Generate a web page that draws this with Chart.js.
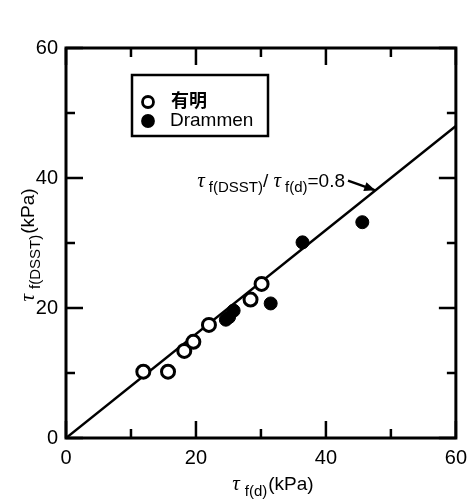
<!DOCTYPE html>
<html>
<head>
<meta charset="utf-8">
<script src="https://cdn.jsdelivr.net/npm/chart.js@4.4.1/dist/chart.umd.min.js"></script>
<style>
  html, body { margin: 0; padding: 0; background: #fff; }
  #wrap { width: 475px; height: 500px; position: relative; }
</style>
</head>
<body>
<div id="wrap"><canvas id="chart"></canvas></div>
<script>
// 有明 (open circles) and Drammen (filled circles)
var ariakeX = [11.9, 15.7, 18.2, 19.6, 22.0, 28.4, 30.1];
var ariakeY = [10.2, 10.2, 13.4, 14.8, 17.4, 21.3, 23.7];
var drammenX = [24.6, 25.1, 25.8, 31.5, 36.4, 45.6];
var drammenY = [18.2, 18.6, 19.6, 20.7, 30.1, 33.2];
var seriesNames = ["有明", "Drammen"];
var ratio = 0.8;
var lineX = [0, 60];
var majorTicks = [0, 20, 40, 60];
var minorTicks = [10, 30, 50];

var SANS = "'Liberation Sans', Arial, sans-serif";
var SERIF = "'Liberation Serif', 'Times New Roman', serif";

function pts(xs, ys) {
    return xs.map(function (x, i) { return { x: x, y: ys[i] }; });
}

// draw a run of text pieces (for subscripts)
function richWidth(ctx, parts) {
    var w = 0;
    parts.forEach(function (p) { ctx.font = p.font; w += ctx.measureText(p.t).width + (p.gap || 0); });
    return w;
}
function drawRich(ctx, parts, x, y) {
    ctx.textBaseline = "alphabetic";
    ctx.textAlign = "left";
    parts.forEach(function (p) {
        ctx.font = p.font;
        ctx.fillText(p.t, x, y + (p.dy || 0));
        x += ctx.measureText(p.t).width + (p.gap || 0);
    });
}

var frame = {
    id: "frame",
    afterDraw: function (chart) {
        var ctx = chart.ctx;
        var a = chart.chartArea;
        var xs = chart.scales.x, ys = chart.scales.y;
        ctx.save();
        ctx.strokeStyle = "#000";
        ctx.fillStyle = "#000";

        // inward ticks on four sides
        ctx.lineWidth = 2.5;
        function tick(v, len) {
            var px = xs.getPixelForValue(v), py = ys.getPixelForValue(v);
            ctx.beginPath();
            ctx.moveTo(px, a.bottom); ctx.lineTo(px, a.bottom - len);
            ctx.moveTo(px, a.top); ctx.lineTo(px, a.top + len);
            ctx.moveTo(a.left, py); ctx.lineTo(a.left + len, py);
            ctx.moveTo(a.right, py); ctx.lineTo(a.right - len, py);
            ctx.stroke();
        }
        majorTicks.forEach(function (v) { tick(v, 17); });
        minorTicks.forEach(function (v) { tick(v, 9); });

        // box
        ctx.lineWidth = 3;
        ctx.strokeRect(a.left, a.top, a.right - a.left, a.bottom - a.top);

        // legend
        var lx = 132, ly = 75;
        ctx.lineWidth = 2.5;
        ctx.strokeRect(lx, ly, 136, 61);
        var ds = chart.data.datasets;
        [0, 1].forEach(function (i) {
            var cy = ly + 27 + i * 19;
            ctx.beginPath();
            ctx.arc(lx + 16, cy, 5.5, 0, Math.PI * 2);
            ctx.fillStyle = ds[i].backgroundColor;
            ctx.fill();
            ctx.lineWidth = 2.8;
            ctx.strokeStyle = "#000";
            ctx.stroke();
        });
        ctx.fillStyle = "#000";
        ctx.textBaseline = "middle";
        ctx.textAlign = "left";
        ctx.font = "bold 18px 'Noto Sans CJK JP', sans-serif";
        ctx.fillText(seriesNames[0], lx + 39, ly + 25);
        ctx.font = "19px " + SANS;
        ctx.fillText(seriesNames[1], lx + 38, ly + 46);

        // x axis title
        var big = "19px " + SANS, sub = "15px " + SANS, tau = "italic 21px " + SERIF;
        var xt = [
            { t: "\u03c4", font: tau, gap: 5 },
            { t: "f(d)", font: sub, dy: 6, gap: 1 },
            { t: "(kPa)", font: big }
        ];
        var w = richWidth(ctx, xt);
        drawRich(ctx, xt, (a.left + a.right) / 2 + 12 - w / 2, 490);

        // y axis title (rotated)
        var yt = [
            { t: "\u03c4", font: tau, gap: 5 },
            { t: "f(DSST)", font: sub, dy: 6, gap: 1 },
            { t: "(kPa)", font: big }
        ];
        w = richWidth(ctx, yt);
        ctx.save();
        ctx.translate(34, (a.top + a.bottom) / 2 + 2);
        ctx.rotate(-Math.PI / 2);
        drawRich(ctx, yt, -w / 2, 0);
        ctx.restore();

        // annotation + arrow
        var at = [
            { t: "\u03c4", font: tau, gap: 4 },
            { t: "f(DSST)", font: sub, dy: 5, gap: 0 },
            { t: "/ ", font: big },
            { t: "\u03c4", font: tau, gap: 4 },
            { t: "f(d)", font: sub, dy: 5, gap: 0 },
            { t: "=0.8", font: big }
        ];
        w = richWidth(ctx, at);
        var ax = xs.getPixelForValue(43.4), ay = ys.getPixelForValue(39.6);
        drawRich(ctx, at, ax - w - 3, ay + 6);

        var tx = xs.getPixelForValue(47.6), ty = ys.getPixelForValue(38.1);
        ctx.lineWidth = 2.5;
        ctx.beginPath();
        ctx.moveTo(ax, ay);
        ctx.lineTo(tx, ty);
        ctx.stroke();
        var ang = Math.atan2(ty - ay, tx - ax);
        ctx.beginPath();
        ctx.moveTo(tx, ty);
        ctx.lineTo(tx - 12 * Math.cos(ang - 0.4), ty - 12 * Math.sin(ang - 0.4));
        ctx.lineTo(tx - 12 * Math.cos(ang + 0.4), ty - 12 * Math.sin(ang + 0.4));
        ctx.closePath();
        ctx.fill();

        ctx.restore();
    }
};

new Chart(document.getElementById("chart").getContext("2d"), {
    type: "scatter",
    data: {
        datasets: [
            {
                label: seriesNames[0],
                data: pts(ariakeX, ariakeY),
                backgroundColor: "#fff",
                borderColor: "#000",
                borderWidth: 3,
                pointRadius: 6.5,
            },
            {
                label: seriesNames[1],
                data: pts(drammenX, drammenY),
                backgroundColor: "#000",
                borderColor: "#000",
                borderWidth: 1,
                pointRadius: 6.5,
            },
            {
                type: "line",
                label: "ratio",
                data: lineX.map(function (x) { return { x: x, y: ratio * x }; }),
                borderColor: "#000",
                borderWidth: 2.5,
                pointRadius: 0,
                fill: false,
            },
        ],
    },
    options: {
        responsive: true,
        maintainAspectRatio: false,
        animation: false,
        layout: { padding: { top: 48, right: 14, left: 0, bottom: 0 } },
        scales: {
            x: {
                type: "linear",
                min: 0, max: 60,
                grid: { display: false, drawTicks: false },
                border: { display: false },
                ticks: {
                    stepSize: 20, padding: 8, color: "#000",
                    font: { family: SANS, size: 20 },
                    maxRotation: 0,
                },
                afterFit: function (s) { s.height = 62; },
            },
            y: {
                type: "linear",
                min: 0, max: 60,
                grid: { display: false, drawTicks: false },
                border: { display: false },
                ticks: {
                    stepSize: 20, padding: 8, color: "#000",
                    font: { family: SANS, size: 20 },
                },
                afterFit: function (s) { s.width = 66; },
            },
        },
        plugins: {
            legend: { display: false },
            tooltip: { enabled: false },
        },
    },
    plugins: [frame],
});
</script>
</body>
</html>
